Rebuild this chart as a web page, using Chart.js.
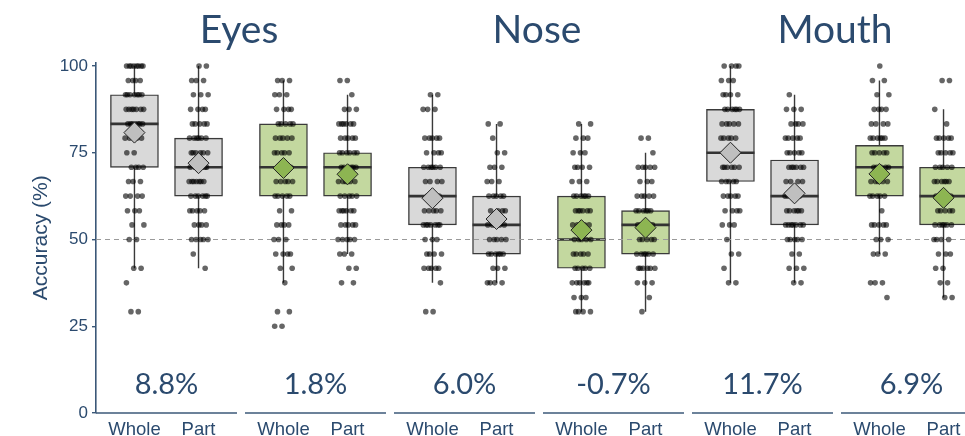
<!DOCTYPE html>
<html>
<head>
<meta charset="utf-8">
<script src="https://cdn.jsdelivr.net/npm/chart.js@4.4.1/dist/chart.umd.min.js"></script>
<style>
  html, body { margin: 0; padding: 0; background: #ffffff; overflow: hidden; }
  #wrap { width: 965px; height: 436px; position: relative; }
</style>
</head>
<body>
<div id="wrap"><canvas id="chart" width="965" height="436"></canvas></div>
<script>
// ---- Data ----------------------------------------------------------------
const regions = ['Eyes', 'Nose', 'Mouth'];
const conditions = ['Whole', 'Part'];
// Six panels: each region shown twice (grey set, then green set)
const panelStyle = ['grey', 'green', 'grey', 'green', 'grey', 'green'];
const effectLabels = ['8.8%', '1.8%', '6.0%', '-0.7%', '11.7%', '6.9%'];

// Box summaries, 12 boxes in panel order (Whole, Part per panel)
const q1          = [70.8, 62.5, 62.5, 62.5, 54.2, 45.8, 41.7, 45.8, 66.7, 54.2, 62.5, 54.2];
const medians     = [83.3, 70.8, 70.8, 70.8, 62.5, 54.2, 50.0, 54.2, 75.0, 62.5, 70.8, 62.5];
const q3          = [91.7, 79.2, 83.3, 75.0, 70.8, 62.5, 62.5, 58.3, 87.5, 72.9, 77.1, 70.8];
const whiskerLow  = [41.7, 41.7, 37.5, 45.8, 37.5, 37.5, 29.2, 29.2, 37.5, 37.5, 45.8, 33.3];
const whiskerHigh = [100, 100, 95.8, 91.7, 91.7, 83.3, 83.3, 75.0, 100, 91.7, 95.8, 87.5];
const means       = [80.8, 72.0, 70.6, 68.8, 61.9, 55.9, 52.7, 53.4, 75.0, 63.3, 68.9, 62.0];

// Accuracy levels (24-trial scores) and participant counts at each level
const levels = [100, 95.8, 91.7, 87.5, 83.3, 79.2, 75, 70.8, 66.7, 62.5, 58.3, 54.2, 50, 45.8, 41.7, 37.5, 33.3, 29.2, 25];
const eyesCounts = [
  [8, 4, 7, 7, 7, 4, 2, 4, 3, 4, 3, 2, 2, 0, 2, 1, 0, 2, 0],
  [2, 3, 3, 4, 5, 6, 6, 6, 7, 6, 5, 4, 5, 1, 1, 0, 0, 0, 0],
  [0, 3, 3, 4, 5, 5, 5, 4, 5, 5, 2, 4, 3, 4, 2, 1, 0, 2, 2],
  [0, 2, 1, 3, 6, 5, 6, 6, 6, 5, 6, 5, 5, 3, 2, 2, 0, 0, 0]
];
const noseCounts = [
  [0, 0, 2, 3, 0, 5, 4, 6, 4, 4, 5, 7, 3, 4, 5, 1, 0, 2, 0],
  [0, 0, 0, 0, 2, 1, 2, 3, 3, 5, 4, 5, 5, 6, 3, 4, 0, 0, 0],
  [0, 0, 0, 0, 2, 3, 3, 4, 3, 6, 6, 4, 5, 5, 5, 6, 3, 4, 0],
  [0, 0, 0, 0, 0, 2, 1, 5, 3, 5, 6, 5, 5, 6, 6, 3, 1, 1, 0]
];
const mouthCounts = [
  [4, 3, 4, 6, 5, 5, 4, 6, 5, 5, 4, 3, 1, 2, 1, 2, 0, 0, 0],
  [0, 0, 1, 3, 4, 5, 5, 6, 4, 5, 6, 7, 5, 2, 3, 2, 0, 0, 0],
  [1, 2, 2, 4, 4, 6, 5, 5, 5, 5, 1, 5, 3, 3, 0, 3, 1, 0, 0],
  [0, 2, 0, 1, 1, 5, 5, 5, 6, 5, 5, 6, 4, 3, 2, 2, 2, 0, 0]
];
const yTicks = [0, 25, 50, 75, 100];

// ---- Layout & style --------------------------------------------------------
const PANEL_W = 2.2;       // panel width in x units (two slots plus margins)
const PANEL_GAP = 0.125;   // gap between panels
const X_MAX = 13.56;
const BOX_W_PX = 48;
const JITTER = 0.15;
const TEXT = '#2b4a6e';
const AXIS = '#3b5878';
const FILL = { grey: '#d9d9d9', green: '#c3d89f' };
const DIAMOND = { grey: '#bfbfbf', green: '#8db552' };
const OUTLINE = '#3a3a3a';

const allCounts = [...eyesCounts, ...noseCounts, ...mouthCounts];
const panelStart = p => p * (PANEL_W + PANEL_GAP);
const xPos = [];
panelStyle.forEach((_, p) => { xPos.push(panelStart(p) + 0.6, panelStart(p) + 1.6); });
const boxStyle = xPos.map((_, i) => panelStyle[Math.floor(i / 2)]);

// Jittered raw points (deterministic horizontal spread)
const pointData = [];
allCounts.forEach((row, bi) => {
  let k = 0;
  row.forEach((n, li) => {
    for (let j = 0; j < n; j++) {
      const t = ((k + 1) * 0.6180339887 + bi * 0.29) % 1;
      pointData.push({ x: xPos[bi] + (t * 2 - 1) * JITTER, y: levels[li] });
      k++;
    }
  });
});

const boxDecor = {
  id: 'boxDecor',
  afterDatasetDraw(chart, args) {
    if (args.index !== 0) return;
    const { ctx, chartArea } = chart;
    const xs = chart.scales.x, ys = chart.scales.y;
    ctx.save();
    // whiskers
    ctx.strokeStyle = OUTLINE;
    ctx.lineWidth = 1.4;
    xPos.forEach((xv, i) => {
      const px = xs.getPixelForValue(xv);
      ctx.beginPath();
      ctx.moveTo(px, ys.getPixelForValue(q3[i]));
      ctx.lineTo(px, ys.getPixelForValue(whiskerHigh[i]));
      ctx.moveTo(px, ys.getPixelForValue(q1[i]));
      ctx.lineTo(px, ys.getPixelForValue(whiskerLow[i]));
      ctx.stroke();
    });
    // medians
    ctx.lineWidth = 2.6;
    ctx.strokeStyle = '#333333';
    xPos.forEach((xv, i) => {
      const px = xs.getPixelForValue(xv);
      const py = ys.getPixelForValue(medians[i]);
      ctx.beginPath();
      ctx.moveTo(px - BOX_W_PX / 2, py);
      ctx.lineTo(px + BOX_W_PX / 2, py);
      ctx.stroke();
    });
    // chance level
    ctx.strokeStyle = '#9a9a9a';
    ctx.lineWidth = 1.2;
    ctx.setLineDash([5, 4]);
    const y50 = ys.getPixelForValue(50);
    ctx.beginPath();
    ctx.moveTo(chartArea.left, y50);
    ctx.lineTo(chartArea.right, y50);
    ctx.stroke();
    ctx.restore();
  },
  afterDraw(chart) {
    const { ctx, chartArea } = chart;
    const xs = chart.scales.x;
    ctx.save();
    // segmented x axis, one segment per panel
    ctx.strokeStyle = AXIS;
    ctx.lineWidth = 1.6;
    panelStyle.forEach((_, p) => {
      const a = xs.getPixelForValue(panelStart(p));
      const b = xs.getPixelForValue(panelStart(p) + PANEL_W);
      ctx.beginPath();
      ctx.moveTo(a, chartArea.bottom);
      ctx.lineTo(b, chartArea.bottom);
      ctx.stroke();
    });
    ctx.fillStyle = TEXT;
    ctx.textAlign = 'center';
    ctx.textBaseline = 'alphabetic';
    // difference labels
    ctx.font = '29px Lato';
    effectLabels.forEach((t, p) => {
      ctx.fillText(t, xs.getPixelForValue(panelStart(p) + PANEL_W / 2), chartArea.bottom - 19);
    });
    // region titles spanning two panels each
    ctx.font = '39px Lato';
    regions.forEach((r, k) => {
      const a = panelStart(2 * k), b = panelStart(2 * k + 1) + PANEL_W;
      ctx.fillText(r, xs.getPixelForValue((a + b) / 2) - 2, 43);
    });
    ctx.restore();
  }
};

new Chart(document.getElementById('chart'), {
  data: {
    datasets: [
      {
        type: 'bar',
        data: xPos.map((xv, i) => ({ x: xv, y: [q1[i], q3[i]] })),
        backgroundColor: boxStyle.map(s => FILL[s]),
        borderColor: OUTLINE,
        borderWidth: 1.4,
        borderSkipped: false,
        barThickness: BOX_W_PX,
        order: 3
      },
      {
        type: 'scatter',
        data: pointData,
        pointRadius: 2.8,
        pointBackgroundColor: 'rgba(0,0,0,0.6)',
        pointBorderWidth: 0,
        clip: false,
        order: 2
      },
      {
        type: 'scatter',
        data: xPos.map((xv, i) => ({ x: xv, y: means[i] })),
        pointStyle: 'rectRot',
        pointRadius: 10.5,
        pointBackgroundColor: boxStyle.map(s => DIAMOND[s]),
        pointBorderColor: '#222222',
        pointBorderWidth: 1,
        clip: false,
        order: 1
      }
    ]
  },
  options: {
    responsive: false,
    animation: false,
    events: [],
    layout: { autoPadding: false, padding: { top: 62.5, left: 0, right: 0, bottom: 0 } },
    plugins: { legend: { display: false }, tooltip: { enabled: false } },
    scales: {
      x: {
        type: 'linear',
        offset: false,
        min: 0,
        max: X_MAX,
        afterBuildTicks: s => { s.ticks = xPos.map(v => ({ value: v })); },
        afterFit: s => { s.height = 23; },
        grid: { display: false },
        border: { display: false },
        ticks: {
          autoSkip: false,
          maxRotation: 0,
          padding: -2,
          color: TEXT,
          font: { family: 'Liberation Sans', size: 18.5 },
          callback: (v, i) => conditions[i % 2]
        }
      },
      y: {
        min: 0,
        max: 101,
        afterBuildTicks: s => { s.ticks = yTicks.map(v => ({ value: v })); },
        afterFit: s => { s.width = 96; },
        grid: { display: true, drawOnChartArea: false, drawTicks: true, tickLength: 4, tickColor: AXIS, lineWidth: 1.4 },
        border: { display: true, color: AXIS, width: 1.6 },
        ticks: {
          padding: 4,
          color: TEXT,
          font: { family: 'Liberation Sans', size: 17 }
        },
        title: {
          display: true,
          text: 'Accuracy (%)',
          color: TEXT,
          font: { family: 'Liberation Sans', size: 21 },
          padding: { top: 29, bottom: 0 }
        }
      }
    }
  },
  plugins: [boxDecor]
});
</script>
</body>
</html>
